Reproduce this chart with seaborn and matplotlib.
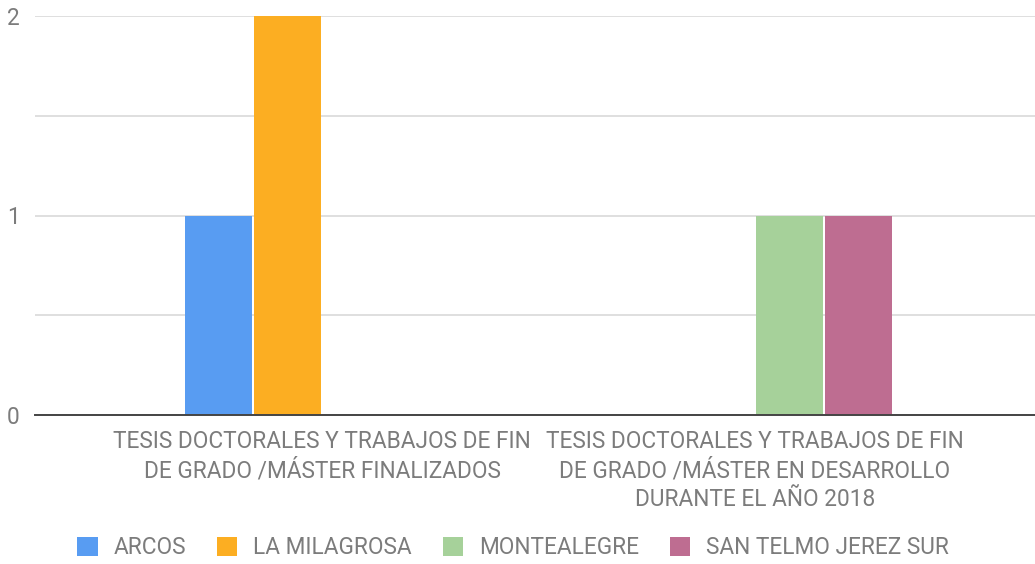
import matplotlib
matplotlib.use("Agg")
import matplotlib.pyplot as plt
from matplotlib.patches import Patch
import seaborn as sns
import pandas as pd

# Categories (x axis) and the number of theses per school
categorias = [
    "TESIS DOCTORALES Y TRABAJOS DE FIN\nDE GRADO /MÁSTER FINALIZADOS",
    "TESIS DOCTORALES Y TRABAJOS DE FIN\nDE GRADO /MÁSTER EN DESARROLLO\nDURANTE EL AÑO 2018",
]
centros = ["ARCOS", "LA MILAGROSA", "MONTEALEGRE", "SAN TELMO JEREZ SUR"]
arcos = [1, 0]
la_milagrosa = [2, 0]
montealegre = [0, 1]
san_telmo = [0, 1]
colores = ["#589CF2", "#FCAE22", "#A6D19A", "#BE6D91"]

valores = {
    "ARCOS": arcos,
    "LA MILAGROSA": la_milagrosa,
    "MONTEALEGRE": montealegre,
    "SAN TELMO JEREZ SUR": san_telmo,
}
filas = []
for centro in centros:
    for cat, v in zip(categorias, valores[centro]):
        filas.append({"categoria": cat, "centro": centro, "valor": v})
df = pd.DataFrame(filas)

sns.set_theme(style="white")
plt.rcParams["font.family"] = ["Roboto", "DejaVu Sans"]

texto_gris = "#7c7c7c"
tam = 16.3
fig = plt.figure(figsize=(10.35, 5.64), dpi=100)
ax = fig.add_axes([35 / 1035, 149 / 564, 1000 / 1035, 399 / 564])

sns.barplot(
    data=df, x="categoria", y="valor", hue="centro",
    order=categorias, hue_order=centros, palette=colores,
    width=0.637, gap=0.03, linewidth=0, saturation=1,
    legend=False, ax=ax,
)

ax.set_ylim(0, 2)
ax.set_xlim(-0.663, 1.647)
ax.set_yticks([0, 1, 2])
ax.set_yticks([0.5, 1.5], minor=True)
ax.yaxis.grid(True, which="both", color="#dcdcdc", linewidth=1.3)
ax.set_axisbelow(True)
for s in ["top", "right", "left"]:
    ax.spines[s].set_visible(False)
ax.spines["bottom"].set_color("#444444")
ax.spines["bottom"].set_linewidth(1.4)
ax.spines["bottom"].set_zorder(5)

ax.set_xlabel("")
ax.set_ylabel("")
ax.tick_params(axis="y", which="both", length=0, pad=11, labelsize=tam, labelcolor=texto_gris)
ax.tick_params(axis="x", length=0, pad=11, labelsize=tam, labelcolor=texto_gris)
for lbl in ax.get_xticklabels():
    lbl.set_multialignment("center")
    lbl.set_linespacing(1.3)

handles = [Patch(facecolor=c, edgecolor="none", label=n) for c, n in zip(colores, centros)]
fig.legend(
    handles=handles, loc="center", bbox_to_anchor=(0.4958, 1 - 548 / 564),
    ncol=4, frameon=False, fontsize=tam, labelcolor=texto_gris,
    handlelength=0.9, handleheight=0.9, handletextpad=0.7, columnspacing=1.37,
)

fig.savefig("out.png", dpi=100, facecolor="white")
